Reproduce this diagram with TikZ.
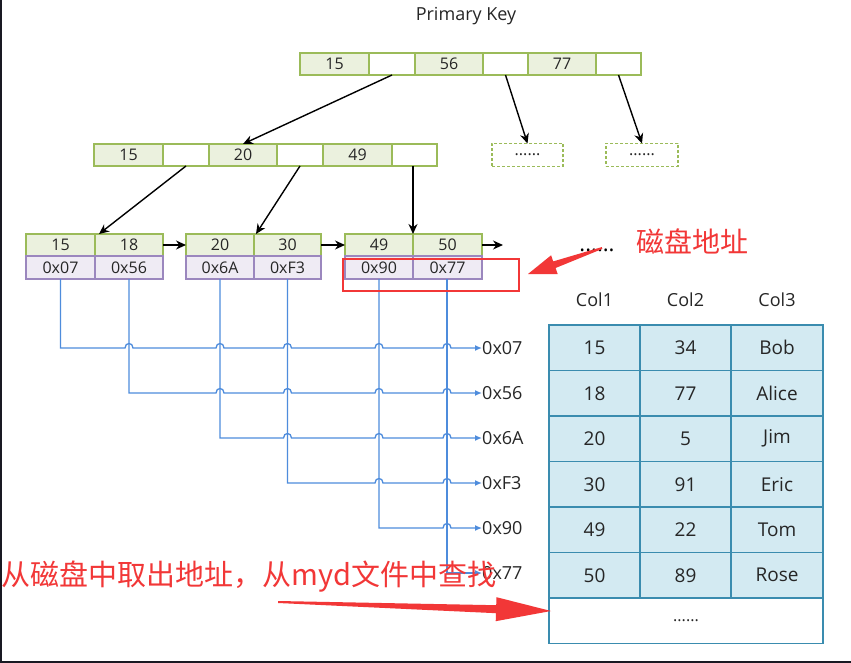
\documentclass[tikz,border=0pt]{standalone}
\usepackage{fontspec}
\setmainfont{Open Sans}
\newfontfamily\cjk{Noto Sans CJK SC}
\usetikzlibrary{arrows.meta}
\definecolor{kgreen}{RGB}{155,187,89}
\definecolor{kfill}{RGB}{235,241,222}
\definecolor{apurple}{RGB}{155,135,190}
\definecolor{afill}{RGB}{239,235,244}
\definecolor{lblue}{RGB}{78,140,220}
\definecolor{tborder}{RGB}{58,140,175}
\definecolor{tfill}{RGB}{211,234,242}
\definecolor{redc}{RGB}{242,55,55}
\definecolor{frame}{RGB}{25,25,35}
\newcommand\hp[2]{-- (#1-4,#2) .. controls (#1-4,#2-6) and (#1+4,#2-6) .. (#1+4,#2)}
\begin{document}
\begin{tikzpicture}[x=1pt,y=-1pt,
  cellbase/.style={draw, inner sep=0pt, outer sep=0pt, line width=1.3pt, font=\fontsize{16}{16}\selectfont, text=black!85},
  keycell/.style={cellbase, draw=kgreen, fill=kfill, minimum height=22pt},
  blankcell/.style={cellbase, draw=kgreen, fill=white, minimum height=22pt},
  addrcell/.style={cellbase, draw=apurple, fill=afill, minimum height=23pt},
  dashbox/.style={cellbase, draw=kgreen, dashed, dash pattern=on 3pt off 2pt, line width=1.8pt, minimum height=23pt},
  tcell/.style={draw=tborder, fill=tfill, line width=1.8pt, inner sep=0pt, minimum width=91pt, minimum height=45.5pt, font=\fontsize{19}{19}\selectfont, text=black!85},
  blk/.style={-{Stealth[length=10pt,width=9pt]}, line width=1.4pt},
  blu/.style={-{Latex[length=7pt,width=6pt]}, line width=1.3pt, draw=lblue},
  addrlbl/.style={anchor=west, inner sep=0pt, font=\fontsize{18}{18}\selectfont, text=black!85},
  hdr/.style={inner sep=0pt, font=\fontsize{18}{18}\selectfont, text=black!85}]
\useasboundingbox (0,0) rectangle (851,663);
\fill[white] (0,0) rectangle (851,663);
\fill[frame] (0,0) rectangle (2,663);
\fill[frame] (0,661) rectangle (851,663);

\node[hdr] (pk) at (466,16) {Primary Key};

% top node
\node[keycell, minimum width=69pt] (t1) at (334.5,64) {15};
\node[blankcell, minimum width=46pt] (t2) at (392,64) {};
\node[keycell, minimum width=68pt] (t3) at (449,64) {56};
\node[blankcell, minimum width=45pt] (t4) at (505.5,64) {};
\node[keycell, minimum width=68pt] (t5) at (562,64) {77};
\node[blankcell, minimum width=45pt] (t6) at (618.5,64) {};

% second level
\node[keycell, minimum width=69pt] (m1) at (128.5,155) {15};
\node[blankcell, minimum width=46pt] (m2) at (186,155) {};
\node[keycell, minimum width=68pt] (m3) at (243,155) {20};
\node[blankcell, minimum width=46pt] (m4) at (300,155) {};
\node[keycell, minimum width=69pt] (m5) at (357.5,155) {49};
\node[blankcell, minimum width=45pt] (m6) at (414.5,155) {};
\node[dashbox, minimum width=71pt] (d1) at (527.5,155) {......};
\node[dashbox, minimum width=72pt] (d2) at (642,155) {......};

% leaves
\node[keycell, minimum width=69pt] (l1a) at (60.5,245) {15};
\node[keycell, minimum width=68pt] (l1b) at (129,245) {18};
\node[addrcell, minimum width=69pt] (p1a) at (60.5,267.5) {0x07};
\node[addrcell, minimum width=68pt] (p1b) at (129,267.5) {0x56};
\node[keycell, minimum width=68pt] (l2a) at (220,245) {20};
\node[keycell, minimum width=67pt] (l2b) at (287.5,245) {30};
\node[addrcell, minimum width=68pt] (p2a) at (220,267.5) {0x6A};
\node[addrcell, minimum width=67pt] (p2b) at (287.5,267.5) {0xF3};
\node[keycell, minimum width=68pt] (l3a) at (379,245) {49};
\node[keycell, minimum width=69pt] (l3b) at (447.5,245) {50};
\node[addrcell, minimum width=68pt] (p3a) at (379,267.5) {0x90};
\node[addrcell, minimum width=69pt] (p3b) at (447.5,267.5) {0x77};
\coordinate (lend) at (503,245);
\node[inner sep=0pt, font=\fontsize{22}{22}\selectfont] (more) at (597,250) {......};

% black arrows
\draw[blk] (t2.south) -- (m3.north);
\draw[blk] (t4.south) -- (d1.north);
\draw[blk] (t6.south) -- (d2.north);
\draw[blk] (m2.south) -- ([xshift=4pt]l1a.north east);
\draw[blk] (m4.south) -- ([xshift=2pt]l2a.north east);
\draw[blk] (l3a.north east |- m6.south) -- (l3a.north east);
\draw[blk] (l1b.east) -- (l2a.west);
\draw[blk] (l2b.east) -- (l3a.west);
\draw[blk] (l3b.east) -- (lend);

% address labels
\node[addrlbl] (a1) at (482,348) {0x07};
\node[addrlbl] (a2) at (482,393) {0x56};
\node[addrlbl] (a3) at (482,438) {0x6A};
\node[addrlbl] (a4) at (482,483) {0xF3};
\node[addrlbl] (a5) at (482,528) {0x90};
\node[addrlbl] (a6) at (482,573) {0x77};

% blue connectors with hops
\draw[blu] (p1a.south) -- (p1a.south |- a1.west) \hp{129}{348} \hp{220}{348} \hp{287.5}{348} \hp{379}{348} \hp{447}{348} -- (a1.west);
\draw[blu] (p1b.south) -- (p1b.south |- a2.west) \hp{220}{393} \hp{287.5}{393} \hp{379}{393} \hp{447}{393} -- (a2.west);
\draw[blu] (p2a.south) -- (p2a.south |- a3.west) \hp{287.5}{438} \hp{379}{438} \hp{447}{438} -- (a3.west);
\draw[blu] (p2b.south) -- (p2b.south |- a4.west) \hp{379}{483} \hp{447}{483} -- (a4.west);
\draw[blu] (p3a.south) -- (p3a.south |- a5.west) \hp{447}{528} -- (a5.west);
\draw[blu] ([xshift=-0.5pt]p3b.south) -- ([xshift=-0.5pt]p3b.south |- a6.west) -- (a6.west);

% table
\node[hdr] (c1) at (594.5,300) {Col1};
\node[hdr] (c2) at (685.5,300) {Col2};
\node[hdr] (c3) at (777,300) {Col3};
\node[tcell] (r1a) at (594.5,347.75) {15};
\node[tcell] (r1b) at (685.5,347.75) {34};
\node[tcell, minimum width=92pt] (r1c) at (777,347.75) {Bob};
\node[tcell] (r2a) at (594.5,393.25) {18};
\node[tcell] (r2b) at (685.5,393.25) {77};
\node[tcell, minimum width=92pt] (r2c) at (777,393.25) {Alice};
\node[tcell] (r3a) at (594.5,438.75) {20};
\node[tcell] (r3b) at (685.5,438.75) {5};
\node[tcell, minimum width=92pt] (r3c) at (777,438.75) {Jim};
\node[tcell] (r4a) at (594.5,484.25) {30};
\node[tcell] (r4b) at (685.5,484.25) {91};
\node[tcell, minimum width=92pt] (r4c) at (777,484.25) {Eric};
\node[tcell] (r5a) at (594.5,529.75) {49};
\node[tcell] (r5b) at (685.5,529.75) {22};
\node[tcell, minimum width=92pt] (r5c) at (777,529.75) {Tom};
\node[tcell] (r6a) at (594.5,575.25) {50};
\node[tcell] (r6b) at (685.5,575.25) {89};
\node[tcell, minimum width=92pt] (r6c) at (777,575.25) {Rose};
\node[tcell, fill=white, minimum width=274pt, font=\fontsize{16}{16}\selectfont] (r7) at (686,620.75) {......};

% red annotations
\draw[redc, line width=2pt] (343,259) rectangle (519,291);
\node[inner sep=0pt, text=redc, font=\cjk\fontsize{28}{28}\selectfont] (note1) at (692,241) {磁盘地址};
\fill[redc] (528,274) -- (551.1,255.3) -- (553.2,261.4) -- (601.7,247.1) -- (602.3,248.9) -- (555.6,268.0) -- (557.7,274.1) -- cycle;
\node[anchor=west, inner sep=0pt, text=redc, font=\cjk\fontsize{29}{29}\selectfont] (note2) at (1,577) {从磁盘中取出地址，从myd文件中查找};
\fill[redc] (551,611) -- (496.5,597.2) -- (496.2,605.2) -- (278,601) -- (278,603) -- (496.0,613.2) -- (495.7,621.2) -- cycle;
\end{tikzpicture}
\end{document}
